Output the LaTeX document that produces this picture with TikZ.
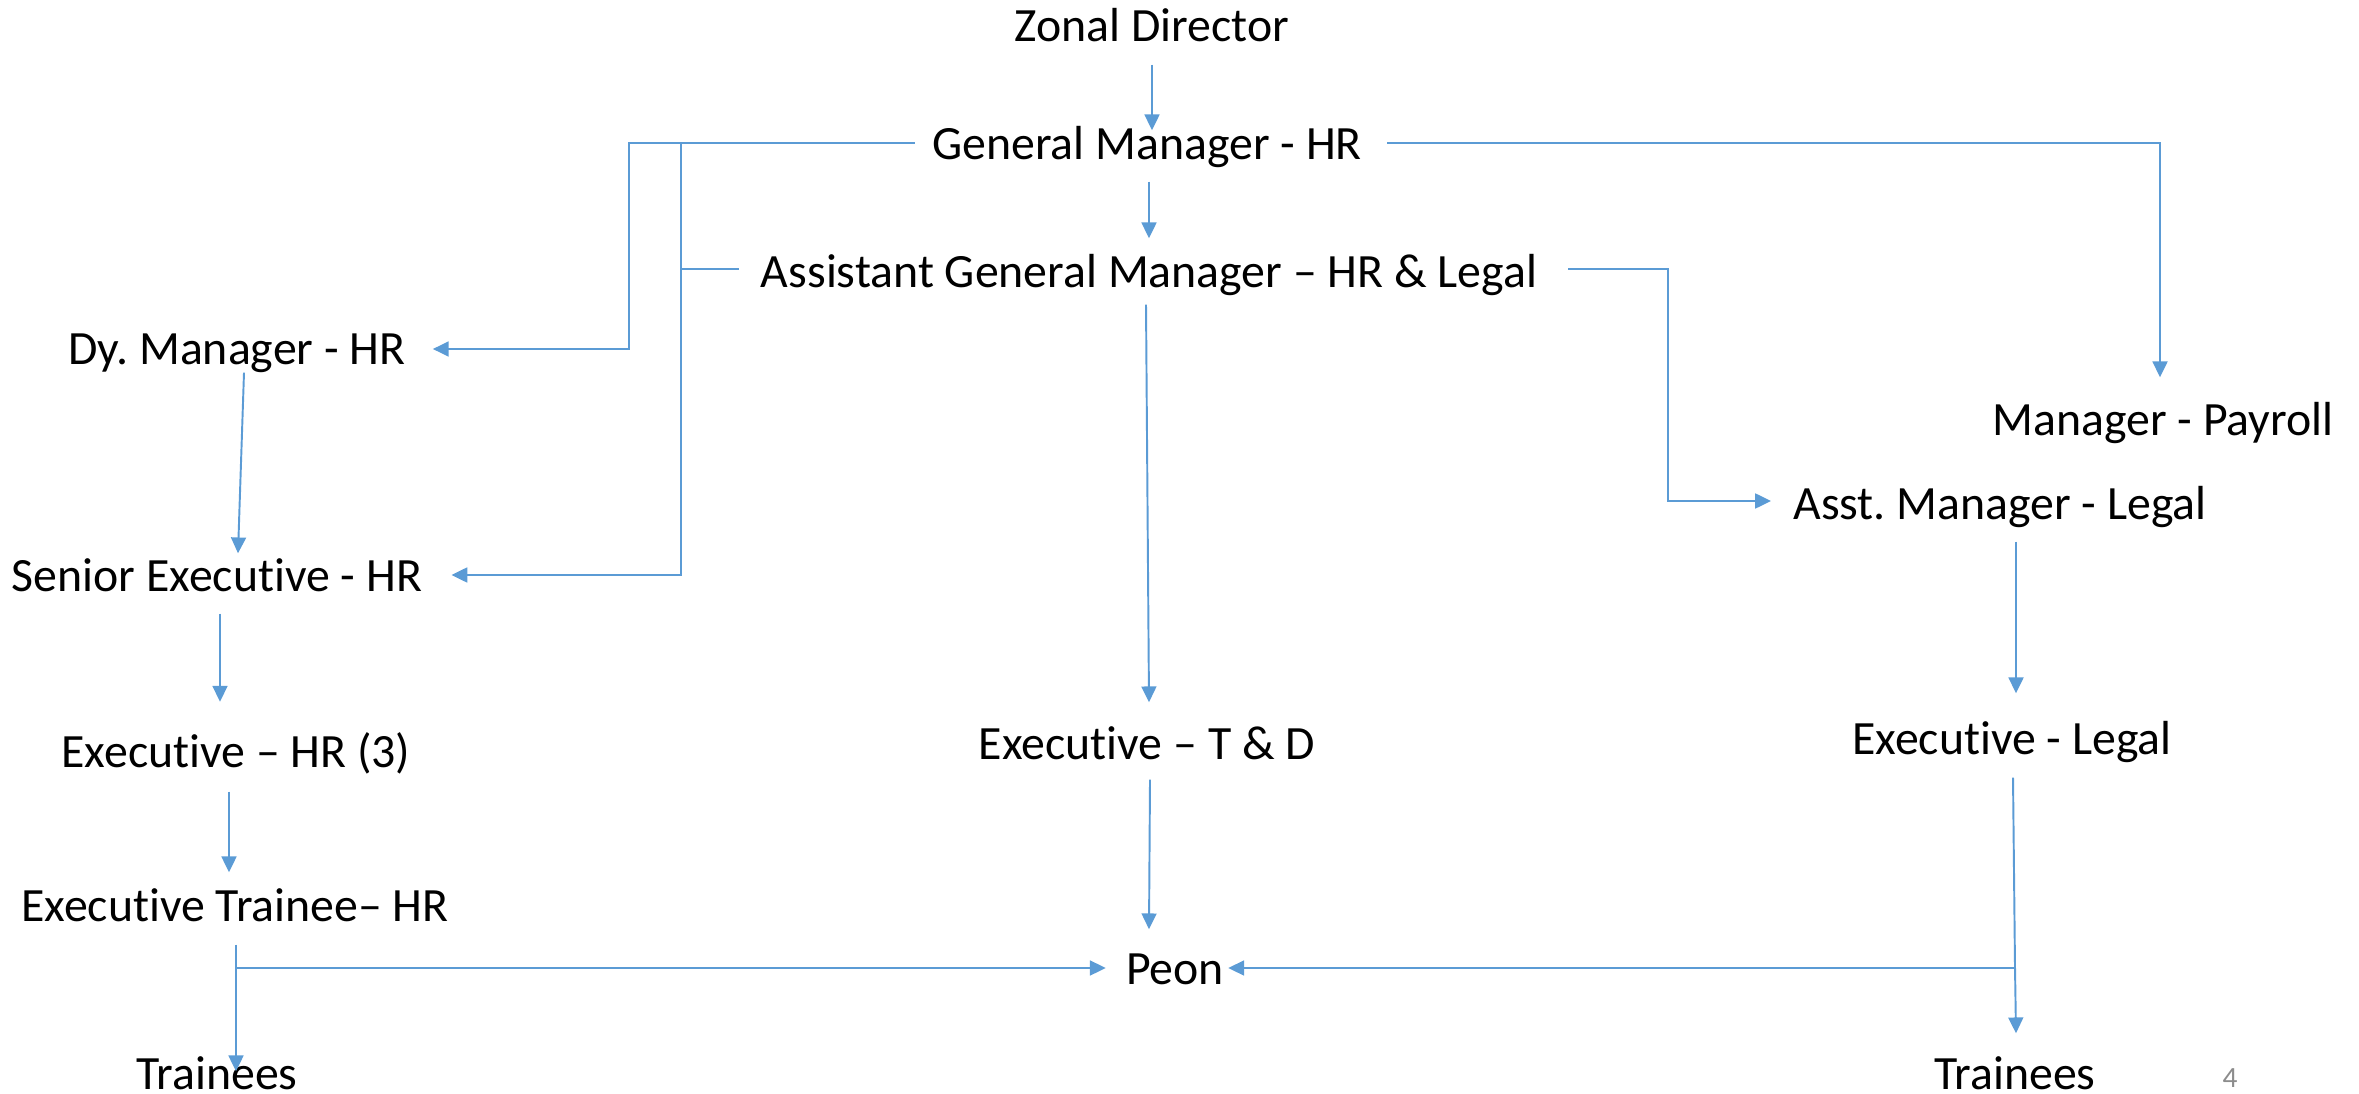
\documentclass[tikz,border=0pt]{standalone}
\usepackage{fontspec}
\setmainfont{Carlito}[Ligatures={TeX,NoCommon}]
\usetikzlibrary{arrows.meta,calc}
\definecolor{ln}{HTML}{5B9BD5}
\definecolor{pg}{HTML}{8C8C8C}
\frenchspacing
\begin{document}
\begin{tikzpicture}[x=0.02cm,y=-0.02cm,
  lbl/.style={inner sep=0pt, text height=17.5pt, text depth=0pt, anchor=center, font=\fontsize{27.2}{32}\selectfont},
  conn/.style={draw=ln, line width=1.1pt},
  arr/.style={conn, -{Triangle[width=8.5pt,length=9pt]}},
  thinln/.style={draw=ln, line width=0.6pt}]
\useasboundingbox (0,0) rectangle (2359,1094);
% nodes
\node[lbl] (zd) at (1152,26) {Zonal Director};
\node[lbl] (gm) at (1147,144) {General Manager - HR};
\node[lbl] (agm) at (1149,272) {Assistant General Manager – HR \& Legal};
\node[lbl] (dy) at (237,349) {Dy.\ Manager - HR};
\node[lbl] (se) at (217,576) {Senior Executive - HR};
\node[lbl] (exhr) at (236,752) {Executive – HR (3)};
\node[lbl] (ext) at (235,906) {Executive Trainee– HR};
\node[lbl] (trl) at (217,1074) {Trainees};
\node[lbl] (peon) at (1175,969) {Peon};
\node[lbl] (extd) at (1147,744) {Executive – T \& D};
\node[lbl] (mp) at (2163,420) {Manager - Payroll};
\node[lbl] (aml) at (2000,504) {Asst.\ Manager - Legal};
\node[lbl] (exl) at (2012,739) {Executive - Legal};
\node[lbl] (trr) at (2015,1074) {Trainees};
\node[inner sep=0pt, text height=10.75pt, text depth=0pt, font=\fontsize{16.7}{20}\selectfont, text=pg] (pn) at (2230,1078) {4};
% junctions
\coordinate (j1) at (629,143);
\coordinate (j2) at (681,143);
\coordinate (j3) at (2160,143);
\coordinate (j4) at (1668,269);
\coordinate (j5) at (236,968);
\coordinate (j6) at (2015,968);
% connectors
\draw[arr] ($(zd.south)+(0,23)$) -- ($(zd.south |- gm.north)+(0,2)$);
\draw[arr] ($(agm.north |- gm.south)+(0,22)$) -- ($(agm.north)+(0,-18)$);
\draw[arr] ($(gm.west)+(-17,-1)$) -- (j1) |- ($(dy.east)+(27,0)$);
\draw[arr] (j2) |- ($(se.east)+(29,-1)$);
\draw[thinln] ($(j2 |- agm.west)+(0,-3)$) -- ($(agm.west)+(-22,-3)$);
\draw[arr] ($(gm.east)+(25,-1)$) -- (j3) -- ($(mp.north -| j3)+(0,-27)$);
\draw[arr] ($(agm.east)+(31,-3)$) -- (j4) |- ($(aml.west)+(-22,-3)$);
\draw[arr] ($(agm.south)+(-3,17)$) -- ($(extd.north)+(2,-26)$);
\draw[arr] ($(dy.south)+(7,8)$) -- ($(se.north)+(21,-7)$);
\draw[arr] ($(se.south)+(3,22)$) -- ($(se.south)+(3,110)$);
\draw[arr] ($(exhr.south)+(-7,24)$) -- ($(ext.north)+(-6,-18)$);
\draw[arr] ($(ext.south)+(1,23)$) -- (j5) -- ($(trl.north)+(19,13)$);
\draw[arr] (j5) -- ($(peon.west)+(-20,-1)$);
\draw[arr] ($(extd.south)+(3,20)$) -- ($(peon.north)+(-26,-24)$);
\draw[arr] ($(aml.south)+(16,22)$) -- ($(exl.north)+(4,-30)$);
\draw[arr] ($(exl.south)+(1,23)$) -- (j6) -- ($(trr.north)+(1,-25)$);
\draw[arr] (j6) -- ($(peon.east)+(4,-1)$);
\end{tikzpicture}
\end{document}
